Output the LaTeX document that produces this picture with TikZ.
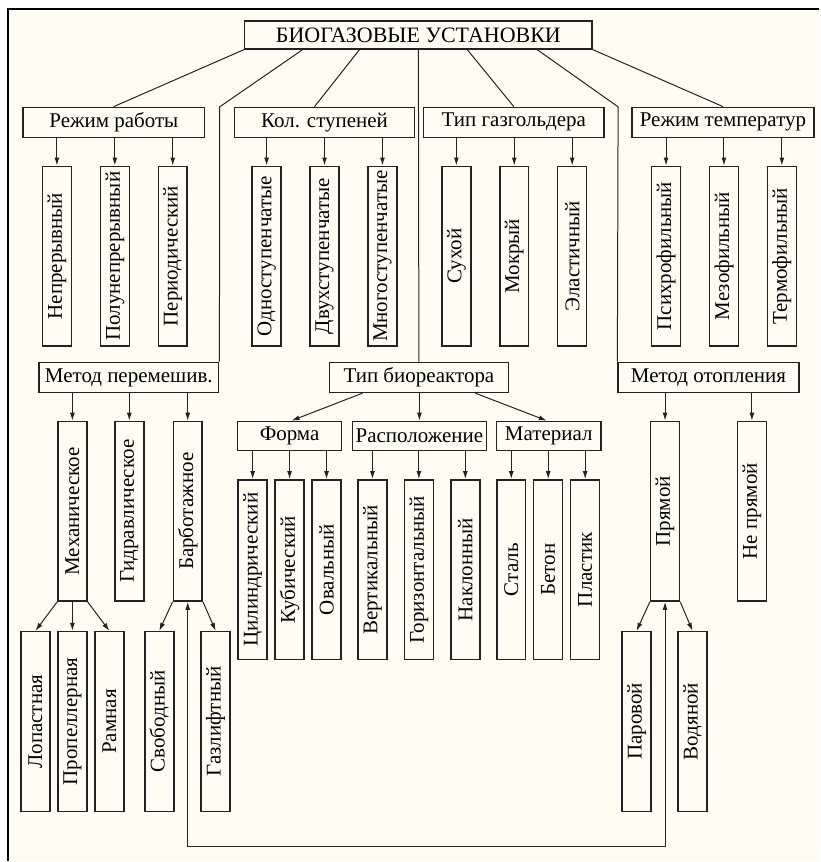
\documentclass[tikz,border=0pt]{standalone}
\usepackage{fontspec}
\setmainfont{Liberation Serif}
\usepackage{graphicx}
\usetikzlibrary{arrows.meta}

\definecolor{paper}{RGB}{255,253,242}
\definecolor{ink}{RGB}{35,35,35}

\tikzset{
  hbox/.style={draw=ink, line width=1.5pt, inner sep=0pt, minimum height=30pt, font=\fontsize{21}{25}\selectfont},
  vbox/.style={draw=ink, line width=1.5pt, inner sep=0pt, minimum width=29pt, minimum height=180pt, font=\fontsize{21}{25}\selectfont},
  link/.style={draw=ink, line width=1pt},
  arr/.style={link, -{Latex[length=8pt,width=5pt]}},
}
\newcommand{\vtext}[1]{\rotatebox{90}{#1}}

\begin{document}
\begin{tikzpicture}[x=1pt, y=-1pt]
% page and frame
\fill[white] (0,0) rectangle (820,862);
\fill[paper] (8,9) rectangle (820,862);
\draw[line width=2.5pt] (8,862) -- (8,9) -- (820,9);

\node[hbox, minimum width=348pt, minimum height=28pt, font=\fontsize{22}{26}\selectfont] (root) at (419,35) {БИОГАЗОВЫЕ УСТАНОВКИ};

% first row
\node[hbox, minimum width=182pt] (regime) at (114,122.5) {Режим работы};
\node[hbox, minimum width=180pt] (stages) at (325,122.5) {Кол. ступеней};
\node[hbox, minimum width=181pt] (holder) at (514.5,122.5) {Тип газгольдера};
\node[hbox, minimum width=182pt] (temp) at (724,122.5) {Режим температур};

\node[vbox] (cont) at (57,256.5) {\vtext{Непрерывный}};
\node[vbox] (semi) at (115,256.5) {\vtext{Полунепрерывный}};
\node[vbox] (batch) at (173,256.5) {\vtext{Периодический}};
\node[vbox] (one) at (267,256.5) {\vtext{Одноступенчатые}};
\node[vbox] (two) at (325,256.5) {\vtext{Двухступенчатые}};
\node[vbox] (multi) at (383,256.5) {\vtext{Многоступенчатые}};
\node[vbox] (dry) at (457,256.5) {\vtext{Сухой}};
\node[vbox] (wet) at (515,256.5) {\vtext{Мокрый}};
\node[vbox] (elastic) at (573,256.5) {\vtext{Эластичный}};
\node[vbox] (psychro) at (667,256.5) {\vtext{Психрофильный}};
\node[vbox] (meso) at (725,256.5) {\vtext{Мезофильный}};
\node[vbox] (thermo) at (783,256.5) {\vtext{Термофильный}};

% second row
\node[hbox, minimum width=180pt] (mix) at (129,378) {Метод перемешив.};
\node[hbox, minimum width=179pt] (bio) at (419.5,378) {Тип биореактора};
\node[hbox, minimum width=181pt] (heat) at (709.5,378) {Метод отопления};

\node[vbox] (mech) at (72.5,512) {\vtext{Механическое}};
\node[vbox] (hydro) at (129.5,512) {\vtext{Гидравлическое}};
\node[vbox] (barb) at (188,512) {\vtext{Барботажное}};
\node[vbox] (direct) at (666,512) {\vtext{Прямой}};
\node[vbox] (indirect) at (753,512) {\vtext{Не прямой}};

\node[hbox, minimum width=104pt, minimum height=29pt] (shape) at (290,436.5) {Форма};
\node[hbox, minimum width=134pt, minimum height=29pt] (place) at (420,436.5) {Расположение};
\node[hbox, minimum width=105pt, minimum height=29pt] (matter) at (549.5,436.5) {Материал};

\node[vbox] (cyl) at (253,570.5) {\vtext{Цилиндрический}};
\node[vbox] (cube) at (290,570.5) {\vtext{Кубический}};
\node[vbox] (oval) at (327,570.5) {\vtext{Овальный}};
\node[vbox] (vert) at (373,570.5) {\vtext{Вертикальный}};
\node[vbox] (horiz) at (419.5,570.5) {\vtext{Горизонтальный}};
\node[vbox] (tilt) at (466,570.5) {\vtext{Наклонный}};
\node[vbox] (steel) at (512,570.5) {\vtext{Сталь}};
\node[vbox] (concrete) at (549,570.5) {\vtext{Бетон}};
\node[vbox] (plastic) at (586,570.5) {\vtext{Пластик}};

% bottom row
\node[vbox] (blade) at (35.5,722.5) {\vtext{Лопастная}};
\node[vbox] (prop) at (72.5,722.5) {\vtext{Пропеллерная}};
\node[vbox] (frame) at (109.5,722.5) {\vtext{Рамная}};
\node[vbox] (free) at (159.5,722.5) {\vtext{Свободный}};
\node[vbox] (gaslift) at (216,722.5) {\vtext{Газлифтный}};
\node[vbox] (steam) at (637.5,722.5) {\vtext{Паровой}};
\node[vbox] (water) at (693.5,722.5) {\vtext{Водяной}};

% root links
\coordinate (mixbend) at (220,107);
\coordinate (heatbend) at (619,107);
\draw[link] (root.south west) -- (regime.north);
\draw[link] ([xshift=-116pt]root.south) -- (mixbend) -- (mix.north east);
\draw[link] ([xshift=-59pt]root.south) -- ([xshift=-10pt]stages.north);
\draw[link] (root.south) -- (bio.north);
\draw[link] ([xshift=49pt]root.south) -- (holder.north);
\draw[link] ([xshift=119pt]root.south) -- (heatbend) -- (heat.north west);
\draw[link] (root.south east) -- (temp.north);

% arrows
\draw[arr] (regime.south -| cont) -- (cont.north);
\draw[arr] (regime.south -| semi) -- (semi.north);
\draw[arr] (regime.south -| batch) -- (batch.north);
\draw[arr] (stages.south -| one) -- (one.north);
\draw[arr] (stages.south -| two) -- (two.north);
\draw[arr] (stages.south -| multi) -- (multi.north);
\draw[arr] (holder.south -| dry) -- (dry.north);
\draw[arr] (holder.south -| wet) -- (wet.north);
\draw[arr] (holder.south -| elastic) -- (elastic.north);
\draw[arr] (temp.south -| psychro) -- (psychro.north);
\draw[arr] (temp.south -| meso) -- (meso.north);
\draw[arr] (temp.south -| thermo) -- (thermo.north);

\draw[arr] (mix.south -| mech) -- (mech.north);
\draw[arr] (mix.south -| hydro) -- (hydro.north);
\draw[arr] (mix.south -| barb) -- (barb.north);
\draw[arr] (heat.south -| direct) -- (direct.north);
\draw[arr] (heat.south -| indirect) -- (indirect.north);

\draw[arr] ([xshift=-56.5pt]bio.south) -- ([xshift=2pt]shape.north);
\draw[arr] (bio.south -| place) -- (place.north);
\draw[arr] ([xshift=56.5pt]bio.south) -- ([xshift=-2pt]matter.north);

\draw[arr] (shape.south -| cyl) -- (cyl.north);
\draw[arr] (shape.south -| cube) -- (cube.north);
\draw[arr] (shape.south -| oval) -- (oval.north);
\draw[arr] (place.south -| vert) -- (vert.north);
\draw[arr] (place.south -| horiz) -- (horiz.north);
\draw[arr] (place.south -| tilt) -- (tilt.north);
\draw[arr] (matter.south -| steel) -- (steel.north);
\draw[arr] (matter.south -| concrete) -- (concrete.north);
\draw[arr] (matter.south -| plastic) -- (plastic.north);

\draw[arr] (mech.south west) -- (blade.north);
\draw[arr] (mech.south) -- (prop.north);
\draw[arr] (mech.south east) -- (frame.north);
\draw[arr] (barb.south west) -- (free.north);
\draw[arr] (barb.south east) -- (gaslift.north);
\draw[arr] (direct.south west) -- (steam.north);
\draw[arr] (direct.south east) -- (water.north);

% loop between the two
\coordinate (loop) at (188,848);
\draw[link, {Latex[length=8pt,width=5pt]}-{Latex[length=8pt,width=5pt]}] (barb.south) -- (loop) -| (direct.south);
\end{tikzpicture}
\end{document}
